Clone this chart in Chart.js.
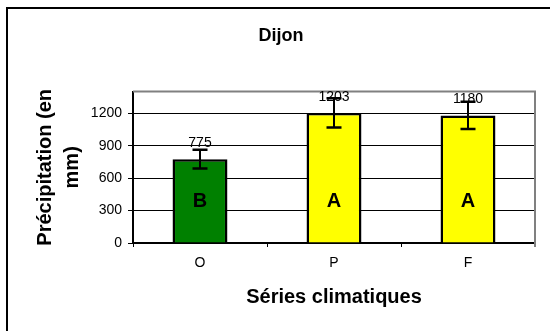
<!DOCTYPE html>
<html>
<head>
<meta charset="utf-8">
<script src="https://cdn.jsdelivr.net/npm/chart.js@4/dist/chart.umd.min.js"></script>
<style>
  body { margin: 0; background: #fff; }
</style>
</head>
<body>
<canvas id="chartDijon" width="550" height="331"></canvas>
<script>
// values
const categories = ["O", "P", "F"];
const precip = [775, 1203, 1180];
const precipErr = [87, 135, 125];
const groupLetters = ["B", "A", "A"];
const barColors = ["#008000", "#FFFF00", "#FFFF00"];
const Y_MAX = 1400;
const Y_STEP = 300;

const FONT = "'Liberation Sans', Arial, sans-serif";

// white background + the outer frame of the chart object
const framePlugin = {
    id: "frame",
    beforeDraw(chart) {
        const c = chart.ctx;
        c.save();
        c.fillStyle = "#fff";
        c.fillRect(0, 0, chart.width, chart.height);
        c.strokeStyle = "#000";
        c.lineWidth = 2;
        c.beginPath();
        c.moveTo(7, chart.height + 2);
        c.lineTo(7, 8);
        c.lineTo(chart.width + 2, 8);
        c.stroke();
        c.restore();
    },
    beforeDatasetsDraw(chart) {
        // gray border top and right of the plot area
        const a = chart.chartArea;
        const c = chart.ctx;
        c.save();
        c.strokeStyle = "#808080";
        c.lineWidth = 2;
        c.beginPath();
        c.moveTo(a.left, a.top);
        c.lineTo(a.right, a.top);
        c.lineTo(a.right, a.bottom + 4);
        c.stroke();
        c.restore();
    }
};

// error bars, value labels and group letters
const annotPlugin = {
    id: "annot",
    afterDatasetsDraw(chart) {
        const c = chart.ctx;
        const y = chart.scales.y;
        const bars = chart.getDatasetMeta(0).data;
        c.save();
        bars.forEach(function(bar, i) {
            const top = y.getPixelForValue(precip[i] + precipErr[i]);
            const bot = y.getPixelForValue(precip[i] - precipErr[i]);
            c.strokeStyle = "#000";
            c.lineWidth = 2;
            c.beginPath();
            c.moveTo(bar.x, top);
            c.lineTo(bar.x, bot);
            c.stroke();
            c.lineWidth = 2.5;
            c.beginPath();
            c.moveTo(bar.x - 7.5, top);
            c.lineTo(bar.x + 7.5, top);
            c.moveTo(bar.x - 7.5, bot);
            c.lineTo(bar.x + 7.5, bot);
            c.stroke();

            c.fillStyle = "#000";
            c.textAlign = "center";
            c.textBaseline = "alphabetic";
            c.font = "14px " + FONT;
            c.fillText(String(precip[i]), bar.x, bar.y - 12);

            c.font = "bold 20px " + FONT;
            c.textBaseline = "middle";
            c.fillText(groupLetters[i], bar.x, y.getPixelForValue(0) - 42);
        });
        c.restore();
    }
};

var ctx = document.getElementById("chartDijon").getContext("2d");
var chartDijon = new Chart(ctx, {
    type: "bar",
    data: {
        labels: categories,
        datasets: [{
            data: precip,
            backgroundColor: barColors,
            borderColor: "#000",
            borderWidth: 2.5,
            barPercentage: 0.41,
            categoryPercentage: 1
        }]
    },
    options: {
        responsive: false,
        animation: false,
        layout: {
            padding: { left: 27, right: 15, top: 0, bottom: 0 }
        },
        plugins: {
            legend: { display: false },
            tooltip: { enabled: false },
            title: {
                display: true,
                text: "Dijon",
                color: "#000",
                font: { family: FONT, size: 18, weight: "bold", lineHeight: 1.2 },
                padding: { top: 25, bottom: 45 }
            }
        },
        scales: {
            x: {
                type: "category",
                offset: true,
                afterFit: function(scale) { scale.height = 88; },
                grid: {
                    display: true,
                    drawOnChartArea: false,
                    offset: true,
                    tickLength: 4,
                    color: "#000"
                },
                border: { display: true, color: "#000", width: 2 },
                ticks: { color: "#000", font: { family: FONT, size: 14 }, padding: 8 },
                title: {
                    display: true,
                    text: "Séries climatiques",
                    color: "#000",
                    font: { family: FONT, size: 20, weight: "bold", lineHeight: 1.2 },
                    padding: { top: 0, bottom: 22 }
                }
            },
            y: {
                min: 0,
                max: Y_MAX,
                afterFit: function(scale) { scale.width = 106; },
                grid: { color: "#000", lineWidth: 1, tickLength: 5 },
                border: { display: true, color: "#000", width: 2 },
                ticks: {
                    stepSize: Y_STEP,
                    includeBounds: false,
                    color: "#000",
                    font: { family: FONT, size: 14 },
                    padding: 6,
                    callback: function(value) { return String(value); }
                },
                title: {
                    display: true,
                    text: ["Précipitation (en", "mm)"],
                    color: "#000",
                    font: { family: FONT, size: 20, weight: "bold", lineHeight: 1.35 },
                    padding: { top: 4.5, bottom: 0 }
                }
            }
        }
    },
    plugins: [framePlugin, annotPlugin]
});
</script>
</body>
</html>
